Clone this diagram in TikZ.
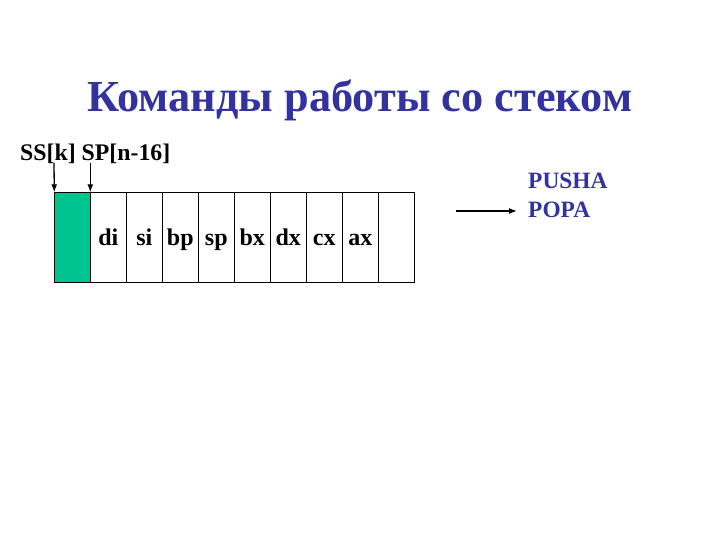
\documentclass[tikz,border=0pt]{standalone}
\usepackage{fontspec}
\setmainfont{Liberation Serif}
\usetikzlibrary{arrows.meta}
\definecolor{titleblue}{RGB}{51,51,160}
\definecolor{stackgreen}{RGB}{0,196,144}
\begin{document}
\begin{tikzpicture}[x=1pt,y=-1pt,
  cell/.style={draw=black,line width=1.1pt,minimum width=36pt,minimum height=90pt,inner sep=0pt,anchor=north west},
  celltext/.style={inner sep=0pt,anchor=base,font=\fontsize{24}{28}\selectfont\bfseries},
  ptr/.style={-{Latex[length=8pt,width=6pt]},line width=1.3pt},
  lbl/.style={inner sep=0pt,anchor=base west,font=\fontsize{23.8}{28}\selectfont\bfseries}]
\useasboundingbox (0,0) rectangle (720,540);
\node[anchor=base,inner sep=0pt,text=titleblue,font=\fontsize{44.3}{50}\selectfont\bfseries] (title) at (360,112) {Команды работы со стеком};
\node[lbl] (sslbl) at (20,161) {SS[k] SP[n-16]};
\node[cell,fill=stackgreen] (c0) at (54.3,192.3) {};
\foreach \t [count=\i] in {di,si,bp,sp,bx,dx,cx,ax,{}} {
  \node[cell] (c\i) at ({54.3+36*\i},192.3) {};
  \node[celltext] (t\i) at ({72.3+36*\i},245) {\t};
}
\coordinate (ssfrom) at (54,163);
\coordinate (spfrom) at (90.3,163);
\draw[ptr] (ssfrom) -- (c0.north west);
\draw[ptr] (spfrom) -- (c1.north west);
\node[lbl,font=\fontsize{23.4}{28}\selectfont\bfseries,text=titleblue] (push) at (528,189) {PUSHA};
\node[lbl,font=\fontsize{23.4}{28}\selectfont\bfseries,text=titleblue] (popa) at (528,218) {POPA};
\coordinate (arrfrom) at (456,211);
\draw[ptr] (arrfrom) -- (517,211);
\end{tikzpicture}
\end{document}
